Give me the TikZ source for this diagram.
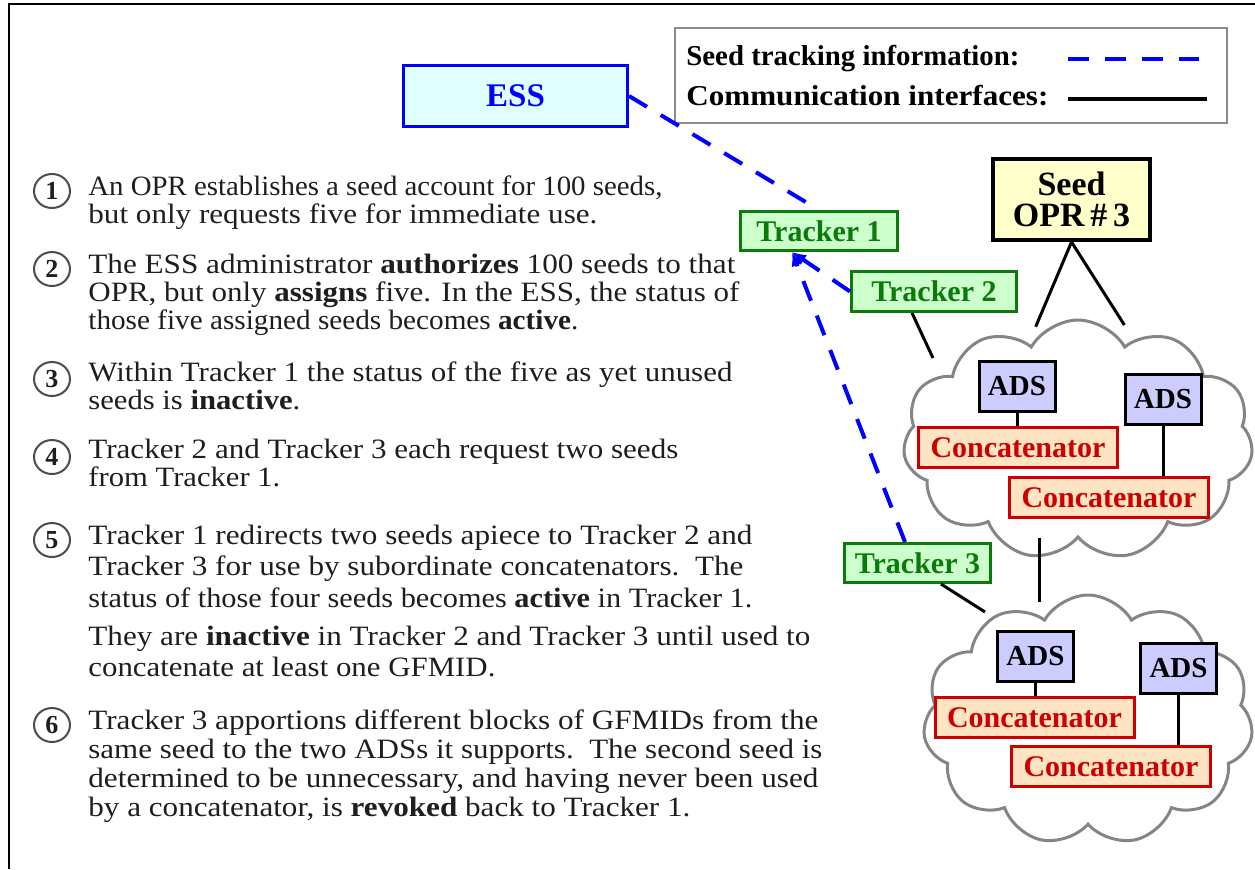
\documentclass[tikz,border=0pt]{standalone}
\usepackage{fontspec}
\usepackage{graphicx}
\setmainfont{Liberation Serif}
\usetikzlibrary{shapes.symbols,shapes.geometric,arrows.meta}
\definecolor{essfill}{HTML}{E0FFFF}
\definecolor{trkgreen}{HTML}{0A7A0A}
\definecolor{trkfill}{HTML}{CCFFCC}
\definecolor{seedfill}{HTML}{FFFFCC}
\definecolor{adsfill}{HTML}{CCCCFF}
\definecolor{catred}{HTML}{CC0000}
\definecolor{catfill}{HTML}{FFE4C4}
\definecolor{cloudgray}{HTML}{858585}
\definecolor{bodytxt}{HTML}{1E1E1E}
\newcommand\fitw[2]{\resizebox{#1pt}{\height}{#2}}
\begin{document}
\begin{tikzpicture}[x=0.5pt,y=-0.5pt,
  box/.style={draw, rectangle, line width=1.5pt, inner sep=0pt, align=center,
    font=\bfseries\fontsize{15pt}{16pt}\selectfont},
  trk/.style={box, draw=trkgreen, fill=trkfill, text=trkgreen},
  ads/.style={box, draw=black, fill=adsfill, minimum width=38pt, minimum height=25pt,
    font=\bfseries\fontsize{14.5pt}{15pt}\selectfont},
  cat/.style={box, draw=catred, fill=catfill, text=catred, minimum width=99.5pt, minimum height=20pt},
  cloudbox/.style={cloud, draw=cloudgray, fill=white, line width=1.5pt, cloud puffs=11,
    cloud puff arc=120, cloud ignores aspect, inner sep=0pt},
  txtline/.style={anchor=base west, inner sep=0pt, text=bodytxt,
    font=\fontsize{14pt}{15pt}\selectfont},
  legtxt/.style={anchor=base west, inner sep=0pt, text=black,
    font=\bfseries\fontsize{14.4pt}{15pt}\selectfont},
  num/.style={ellipse, draw=black!70, line width=1pt, minimum width=18pt,
    minimum height=17pt, inner sep=0pt, text=bodytxt,
    font=\bfseries\fontsize{13pt}{13pt}\selectfont},
  seeddash/.style={draw=blue, line width=2pt, dash pattern=on 10.5pt off 8pt},
  comm/.style={draw=black, line width=1.5pt},
]
\useasboundingbox (0,0) rectangle (1255,869);
% frame
\draw[line width=1.3pt] (9,869) -- (9,4) -- (1255,4);

% legend
\node[draw=black!45, line width=1pt, minimum width=276pt, minimum height=47.5pt, inner sep=0pt]
  (legend) at (951,75.5) {};
\node[legtxt] (lg1) at (686,65) {\fitw{166.5}{Seed tracking information:}};
\node[legtxt] (lg2) at (686,105) {\fitw{181}{Communication interfaces:}};
\coordinate (ld1) at (1068,59);
\coordinate (ld2) at (1199,59);
\coordinate (ls1) at (1068,99);
\coordinate (ls2) at (1207,99);
\draw[seeddash] (ld1) -- (ld2);
\draw[comm, line width=2pt] (ls1) -- (ls2);

% ESS
\node[box, draw=blue, fill=essfill, text=blue, minimum width=112pt, minimum height=30.5pt,
  font=\bfseries\fontsize{16.5pt}{17pt}\selectfont] (ess) at (515.5,96) {ESS};

% clouds
\node[cloudbox, minimum width=175pt, minimum height=120pt] (cl1) at (1078,440) {};
\node[cloudbox, minimum width=165pt, minimum height=125pt] (cl2) at (1088,720) {};

% trackers and seed
\node[trk, minimum width=78.5pt, minimum height=19.5pt] (tr1) at (819,231) {Tracker 1};
\node[trk, minimum width=82.5pt, minimum height=20pt] (tr2) at (934,291.5) {Tracker 2};
\node[trk, minimum width=73pt, minimum height=19.5pt] (tr3) at (917.5,563) {Tracker 3};
\node[box, line width=2pt, fill=seedfill, minimum width=78.5pt, minimum height=40.5pt,
  font=\bfseries\fontsize{17pt}{15.5pt}\selectfont] (seed) at (1071.5,199.5) {Seed\\OPR\,\#\,3};

% ADS and concatenators
\node[ads] (ads1) at (1017,386) {ADS};
\node[ads] (ads2) at (1163,399.5) {ADS};
\node[ads] (ads3) at (1035.5,656) {ADS};
\node[ads] (ads4) at (1178.5,668.5) {ADS};
\node[cat] (cat1) at (1018,447.5) {Concatenator};
\node[cat] (cat2) at (1109,497.5) {Concatenator};
\node[cat] (cat3) at (1034.5,717.5) {Concatenator};
\node[cat] (cat4) at (1111,766.5) {Concatenator};

% communication interfaces
\coordinate (c1a) at (1035.7,326.7);
\coordinate (c1b) at (1124.4,325);
\coordinate (c1c) at (933,358);
\coordinate (c1d) at (1039,538);
\coordinate (c2a) at (1039,602);
\coordinate (c2b) at (985,612);
\draw[comm] (seed.south) -- (c1a);
\draw[comm] (seed.south) -- (c1b);
\draw[comm] ([xshift=31pt]tr2.south west) -- (c1c);
\draw[comm] (c1d) -- (c2a);
\draw[comm] ([xshift=49pt]tr3.south west) -- (c2b);
\draw[comm] (ads1.south) -- (ads1.south |- cat1.north);
\draw[comm] (ads2.south) -- (ads2.south |- cat2.north);
\draw[comm] (ads3.south) -- (ads3.south |- cat3.north);
\draw[comm] (ads4.south) -- (ads4.south |- cat4.north);

% seed tracking
\coordinate (tip) at ([xshift=-13.5pt]tr1.south);
\draw[seeddash] (ess.east) -- (tr1.north);
\draw[seeddash, -{Latex[length=7pt,width=6pt]}] (tr2.west) -- (tip);
\draw[seeddash, -{Latex[length=7pt,width=6pt]}] ([xshift=-6.25pt]tr3.north) -- (tip);

% numbered items
\node[num] (n1) at (52,191) {1};
\node[num] (n2) at (52,269) {2};
\node[num] (n3) at (52,379) {3};
\node[num] (n4) at (52,457) {4};
\node[num] (n5) at (52,540) {5};
\node[num] (n6) at (52,725) {6};

\node[txtline] (t1a) at (88,195) {\fitw{287}{An OPR establishes a seed account for 100 seeds,}};
\node[txtline] (t1b) at (88,223) {\fitw{254.5}{but only requests five for immediate use.}};
\node[txtline] (t2a) at (88,273) {\fitw{323.5}{The ESS administrator \textbf{authorizes} 100 seeds to that}};
\node[txtline] (t2b) at (88,301) {\fitw{325.5}{OPR, but only \textbf{assigns} five. In the ESS, the status of}};
\node[txtline] (t2c) at (88,329) {\fitw{245}{those five assigned seeds becomes \textbf{active}.}};
\node[txtline] (t3a) at (88,381) {\fitw{322}{Within Tracker 1 the status of the five as yet unused}};
\node[txtline] (t3b) at (88,409) {\fitw{106}{seeds is \textbf{inactive}.}};
\node[txtline] (t4a) at (88,458) {\fitw{295}{Tracker 2 and Tracker 3 each request two seeds}};
\node[txtline] (t4b) at (88,486) {\fitw{96}{from Tracker 1.}};
\node[txtline] (t5a) at (88,544) {\fitw{332}{Tracker 1 redirects two seeds apiece to Tracker 2 and}};
\node[txtline] (t5b) at (88,575) {\fitw{327.5}{Tracker 3 for use by subordinate concatenators.\ \ The}};
\node[txtline] (t5c) at (88,607) {\fitw{332}{status of those four seeds becomes \textbf{active} in Tracker 1.}};
\node[txtline] (t5d) at (88,645) {\fitw{361}{They are \textbf{inactive} in Tracker 2 and Tracker 3 until used to}};
\node[txtline] (t5e) at (88,676) {\fitw{203.5}{concatenate at least one GFMID.}};
\node[txtline] (t6a) at (88,729) {\fitw{365}{Tracker 3 apportions different blocks of GFMIDs from the}};
\node[txtline] (t6b) at (88,758) {\fitw{367}{same seed to the two ADSs it supports.\ \ The second seed is}};
\node[txtline] (t6c) at (88,787) {\fitw{365}{determined to be unnecessary, and having never been used}};
\node[txtline] (t6d) at (88,816) {\fitw{301}{by a concatenator, is \textbf{revoked} back to Tracker 1.}};
\end{tikzpicture}
\end{document}
